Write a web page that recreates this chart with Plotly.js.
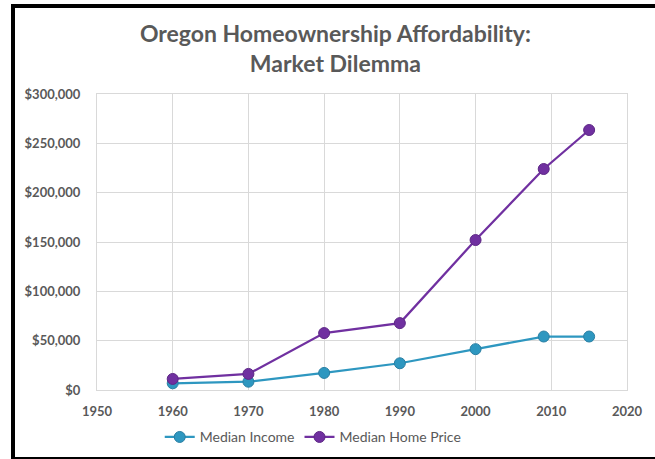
<!DOCTYPE html>
<html>
<head>
<meta charset="utf-8">
<script src="https://cdn.plot.ly/plotly-3.0.1.min.js"></script>
<style>
html,body{margin:0;padding:0;background:#fff;}
#wrap{position:relative;width:655px;height:459px;overflow:hidden;}
#chart{position:absolute;left:0;top:0;width:655px;height:459px;}
#frame{position:absolute;left:11px;top:4px;width:700px;height:449px;border:4px solid #000;border-right:none;pointer-events:none;}
</style>
</head>
<body>
<div id="wrap">
<div id="chart"></div>
<div id="frame"></div>
</div>
<script>
const years = [1960, 1970, 1980, 1990, 2000, 2009, 2015];
const medianIncome = [6800, 8400, 17300, 27100, 41400, 54200, 54200];
const medianHomePrice = [11200, 16300, 57700, 67800, 152000, 224000, 263500];
const seriesNames = ["Median Income", "Median Home Price"];

const gray = '#595959';
const fontFam = 'Lato, "Open Sans", sans-serif';

const traces = [
  {x: years, y: medianIncome, name: seriesNames[0], type: 'scatter', mode: 'lines+markers',
   line: {color: '#2E97C0', width: 2.25},
   marker: {color: '#2E97C0', size: 11, line: {color: '#2A7FA3', width: 1}}},
  {x: years, y: medianHomePrice, name: seriesNames[1], type: 'scatter', mode: 'lines+markers',
   line: {color: '#7030A0', width: 2.25},
   marker: {color: '#7030A0', size: 11, line: {color: '#5E2886', width: 1}}}
];

const layout = {
  width: 655, height: 459,
  margin: {l: 97, r: 28, t: 94, b: 69, autoexpand: false},
  paper_bgcolor: 'rgba(0,0,0,0)', plot_bgcolor: '#fff',
  font: {family: fontFam, color: gray},
  title: {text: '<b>Oregon Homeownership Affordability:</b><br><b>Market Dilemma</b>',
          x: 0.512, xanchor: 'center', y: 0.908, yanchor: 'middle',
          font: {family: fontFam, size: 23, color: gray}},
  xaxis: {range: [1950, 2020], dtick: 10, tick0: 1950, showgrid: true, gridcolor: '#D9D9D9',
          zeroline: false, showline: true, linecolor: '#D9D9D9', mirror: true,
          ticks: '', ticklabelstandoff: 9,
          tickfont: {family: fontFam, size: 13, color: gray, weight: 'bold'}},
  yaxis: {range: [0, 300000], dtick: 50000, showgrid: true, gridcolor: '#D9D9D9',
          zeroline: false, showline: true, linecolor: '#D9D9D9', mirror: true,
          tickformat: '$,.0f', ticks: '', ticklabelstandoff: 13,
          tickfont: {family: fontFam, size: 13, color: gray, weight: 'bold'}},
  showlegend: true,
  legend: {orientation: 'h', x: 0.408, xanchor: 'center', y: -0.16, yanchor: 'middle',
           font: {family: fontFam, size: 14, color: gray}, itemwidth: 30, tracegroupgap: 0}
};

Plotly.newPlot('chart', traces, layout, {displayModeBar: false, staticPlot: true});
</script>
</body>
</html>
